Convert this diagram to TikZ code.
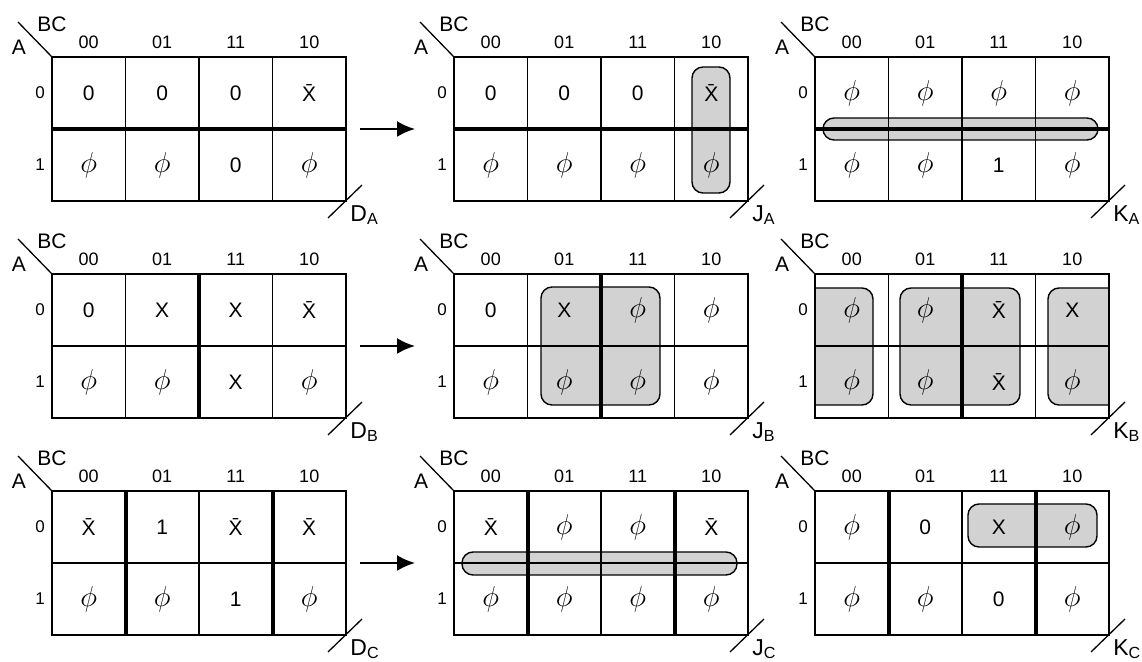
\documentclass[tikz,border=0pt]{standalone}
\usepackage{fontspec}
\setmainfont{Liberation Sans}
\usetikzlibrary{arrows.meta}

\newcommand{\Xbar}{\={X}}
\newcommand{\phix}{{\fontsize{14}{15}\selectfont$\phi$}}

\tikzset{
  kline/.style={line width=0.65pt},
  kbold/.style={line width=2pt},
  kloop/.style={draw,line width=0.7pt,fill=gray!35,rounded corners=5.5pt},
  kframe/.style={draw,line width=0.65pt,minimum width=147pt,minimum height=72pt,inner sep=0pt,outer sep=0pt},
  kcell/.style={font=\fontsize{10.5}{12}\selectfont,inner sep=0pt},
  khdr/.style={font=\fontsize{9}{10}\selectfont,inner sep=0pt},
  krow/.style={font=\fontsize{8.5}{10}\selectfont,inner sep=0pt},
  kcorner/.style={font=\fontsize{10.5}{12}\selectfont,inner sep=0pt},
  kout/.style={font=\fontsize{11.5}{13}\selectfont,inner sep=0pt,anchor=north west},
  nextarrow/.style={-{Latex[length=9pt,width=8pt]},line width=1.1pt,shorten <=7pt,shorten >=19.5pt}
}

% #1 name, #2 letter, #3 subscript, #4 row A=0, #5 row A=1
\newcommand{\kmap}[5]{%
  \node[kframe] (#1) at (147,72) {};
  \draw[kline] (73.5,0) -- (73.5,144) (147,0) -- (147,144) (220.5,0) -- (220.5,144) (0,72) -- (294,72);
  \draw[kline] (#1.north west) -- (-34,-35);
  \node[kcorner] (#1-bc) at (0,-33) {BC};
  \node[kcorner] (#1-a) at (-33,-10) {A};
  \foreach \c [count=\i from 0] in {00,01,11,10}
    \node[khdr] (#1-h\c) at (36.75+73.5*\i,-15) {\c};
  \node[krow] (#1-r0) at (-12,36) {0};
  \node[krow] (#1-r1) at (-12,108) {1};
  \foreach \v [count=\i from 0] in {#4}
    \node[kcell] (#1-0\i) at (36.75+73.5*\i,36) {\v};
  \foreach \v [count=\i from 0] in {#5}
    \node[kcell] (#1-1\i) at (36.75+73.5*\i,108) {\v};
  \draw[kline] (#1.south east) ++(-18,17) -- ++(34,-33);
  \node[kout] (#1-out) at (298,148) {#2\textsubscript{#3}};
}

\begin{document}
\begin{tikzpicture}[x=0.5pt,y=-0.5pt]
\useasboundingbox (0,0) rectangle (1142,662);
% row A
\begin{scope}[shift={(52,57)}]
\kmap{DA}{D}{A}{0,0,0,\Xbar}{\phix,\phix,0,\phix}
\draw[kbold] (0,72) -- (294,72);
\end{scope}
\begin{scope}[shift={(454,57)}]
\draw[kloop] (238,10) rectangle (276,136);
\kmap{JA}{J}{A}{0,0,0,\Xbar}{\phix,\phix,\phix,\phix}
\draw[kbold] (0,72) -- (294,72);
\end{scope}
\begin{scope}[shift={(815,57)}]
\draw[kloop] (8,61) rectangle (283,83);
\kmap{KA}{K}{A}{\phix,\phix,\phix,\phix}{\phix,\phix,1,\phix}
\draw[kbold] (0,72) -- (294,72);
\end{scope}
% row B
\begin{scope}[shift={(52,274)}]
\kmap{DB}{D}{B}{0,X,X,\Xbar}{\phix,\phix,X,\phix}
\draw[kbold] (147,0) -- (147,144);
\end{scope}
\begin{scope}[shift={(454,274)}]
\draw[kloop] (87,13) rectangle (206,131);
\kmap{JB}{J}{B}{0,X,\phix,\phix}{\phix,\phix,\phix,\phix}
\draw[kbold] (147,0) -- (147,144);
\end{scope}
\begin{scope}[shift={(815,274)}]
\draw[kloop] (0,14) -- (58,14) -- (58,131) -- (0,131);
\draw[kloop] (85,14) rectangle (205,131);
\draw[kloop] (294,14) -- (233,14) -- (233,131) -- (294,131);
\kmap{KB}{K}{B}{\phix,\phix,\Xbar,X}{\phix,\phix,\Xbar,\phix}
\draw[kbold] (147,0) -- (147,144);
\end{scope}
% row C
\begin{scope}[shift={(52,491)}]
\kmap{DC}{D}{C}{\Xbar,1,\Xbar,\Xbar}{\phix,\phix,1,\phix}
\draw[kbold] (73.5,0) -- (73.5,144) (220.5,0) -- (220.5,144);
\end{scope}
\begin{scope}[shift={(454,491)}]
\draw[kloop] (8,61) rectangle (283,84);
\kmap{JC}{J}{C}{\Xbar,\phix,\phix,\Xbar}{\phix,\phix,\phix,\phix}
\draw[kbold] (73.5,0) -- (73.5,144) (220.5,0) -- (220.5,144);
\end{scope}
\begin{scope}[shift={(815,491)}]
\draw[kloop] (153,13) rectangle (282,56);
\kmap{KC}{K}{C}{\phix,0,X,\phix}{\phix,\phix,0,\phix}
\draw[kbold] (73.5,0) -- (73.5,144) (220.5,0) -- (220.5,144);
\end{scope}
\draw[nextarrow] (DA) -- (JA);
\draw[nextarrow] (DB) -- (JB);
\draw[nextarrow] (DC) -- (JC);
\end{tikzpicture}
\end{document}
